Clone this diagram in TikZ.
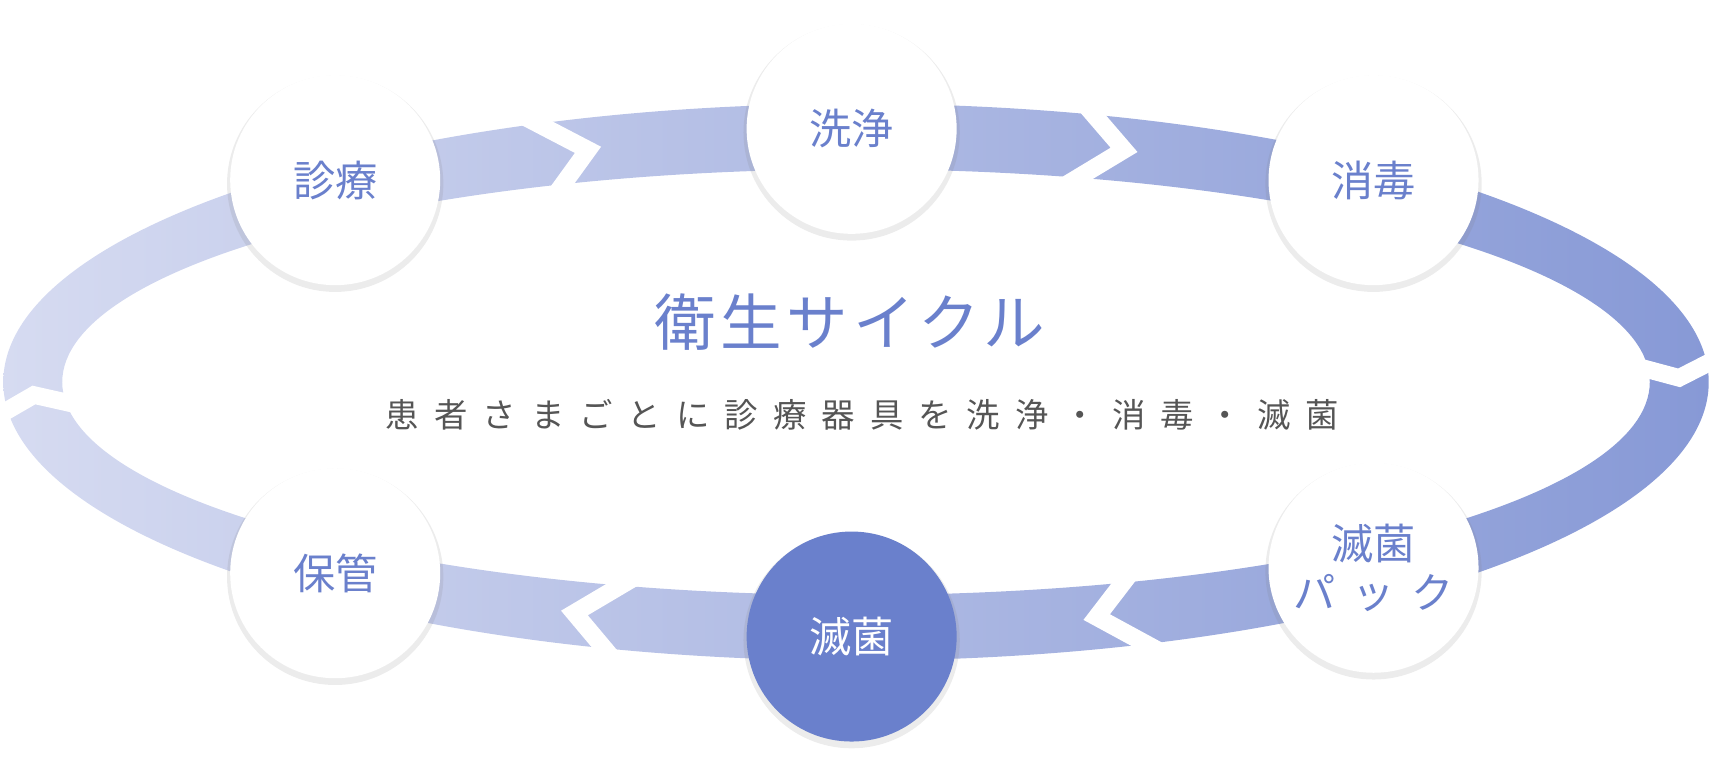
\documentclass[tikz,border=0pt]{standalone}
\usepackage{fontspec}
\setmainfont{Noto Sans CJK JP}
\usetikzlibrary{shadows}
\definecolor{ringlight}{HTML}{D6DBF1}
\definecolor{ringdark}{HTML}{8799D6}
\definecolor{stepblue}{HTML}{6A80CC}
\definecolor{subgray}{HTML}{555555}
\tikzset{
  stage/.style={circle,minimum size=4.2cm,inner sep=0pt,fill=white,text=stepblue,
    font=\fontsize{24}{30}\selectfont,align=center,
    drop shadow={opacity=0.15,shadow xshift=0pt,shadow yshift=-2pt,shadow scale=1.03}},
  cut/.style={white,line width=10,line join=miter}
}
\begin{document}
\begin{tikzpicture}[x=0.021837cm,y=0.021837cm]
  \useasboundingbox (0,0) rectangle (1568,-696);
  % Ring
  \path[even odd rule,left color=ringlight,right color=ringdark]
    (784,-350) ellipse [x radius=781,y radius=255]
    (784,-350) ellipse [x radius=727,y radius=195];
  % Chevron gaps
  \foreach \t in {109,71,1,-73,-110,183}{
    \draw[cut] ({784+795*cos(\t+4)},{-350+268*sin(\t+4)})
      -- ({784+754*cos(\t)},{-350+225*sin(\t)})
      -- ({784+712*cos(\t+4)},{-350+182*sin(\t+4)});
  }
  % Stages
  \node[stage] (shinryo) at (307,-165) {診療};
  \node[stage] (senjo) at (780,-118) {洗浄};
  \node[stage] (shodoku) at (1258,-165) {消毒};
  \node[stage] (pack) at (1258,-520) {滅菌\\[-2pt]{\addfontfeatures{LetterSpace=40}パック}};
  \node[stage,fill=stepblue,text=white] (mekkin) at (780,-583) {滅菌};
  \node[stage] (hokan) at (307,-525) {保管};
  % Title
  \node[text=stepblue,font=\fontsize{35}{40}\selectfont\addfontfeatures{LetterSpace=8}] (title) at (778,-295) {衛生サイクル};
  \node[text=subgray,font=\fontsize{19}{22}\selectfont\addfontfeatures{LetterSpace=45}] (sub) at (790,-380) {患者さまごとに診療器具を洗浄・消毒・滅菌};
\end{tikzpicture}
\end{document}
